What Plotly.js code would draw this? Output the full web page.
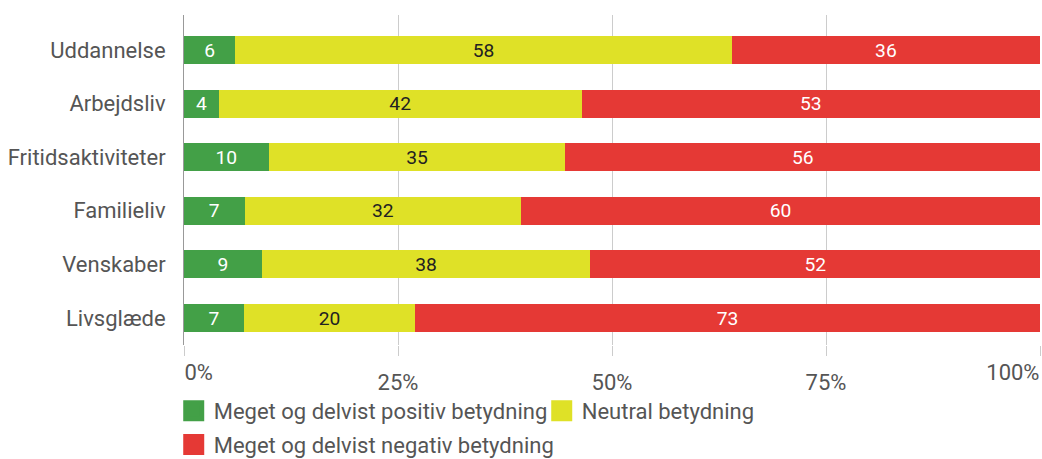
<!DOCTYPE html>
<html>
<head>
<meta charset="utf-8">
<script src="https://cdn.plot.ly/plotly-3.0.1.min.js"></script>
<style>html,body{margin:0;padding:0;background:#fff;}#chart{width:1042px;height:459px;}</style>
</head>
<body>
<div id="chart"></div>
<script>
const categories = ["Uddannelse", "Arbejdsliv", "Fritidsaktiviteter", "Familieliv", "Venskaber", "Livsglæde"];
const seriesNames = ["Meget og delvist positiv betydning", "Neutral betydning", "Meget og delvist negativ betydning"];
const positive = [6, 4, 10, 7, 9, 7];
const neutral = [58, 42, 35, 32, 38, 20];
const negative = [36, 53, 56, 60, 52, 73];
const tickVals = [0, 25, 50, 75, 100];
const tickText = ["0%", "25%", "50%", "75%", "100%"];

const colors = ["#43A047", "#DFE127", "#E53935"];
const textColors = ["#ffffff", "#222222", "#ffffff"];
const values = [positive, neutral, negative];
const FONT = "Roboto, sans-serif";

const traces = values.map((v, i) => ({
  type: "bar",
  orientation: "h",
  name: seriesNames[i],
  y: categories,
  x: v,
  text: v.map(String),
  texttemplate: "%{text}",
  textposition: "inside",
  insidetextanchor: "middle",
  textangle: 0,
  insidetextfont: {family: FONT, size: 22, color: textColors[i]},
  marker: {color: colors[i], line: {width: 0}},
  showlegend: false,
  legendgroup: "g" + i,
  hoverinfo: "skip"
}));

// legend entries (square swatches); also anchor the edge tick-label axes
const legendAxes = ["x2", "x", "x3"];
const legendIds = ["legend", "legend", "legend2"];
seriesNames.forEach((n, i) => {
  traces.push({
    type: "scatter",
    mode: "markers",
    name: n,
    x: [null],
    y: [null],
    xaxis: legendAxes[i],
    yaxis: "y",
    legend: legendIds[i],
    marker: {symbol: "square", size: 16, color: colors[i], line: {width: 5, color: colors[i]}},
    showlegend: true,
    legendgroup: "g" + i,
    hoverinfo: "skip"
  });
});

const axisFont = {family: FONT, size: 22, color: "#555555"};

function edgeAxis(val, label, pos) {
  return {
    overlaying: "x",
    anchor: "y",
    side: "bottom",
    range: [0, 100],
    tickvals: [val],
    ticktext: [label],
    ticklabelposition: pos,
    ticklabelstandoff: 8,
    showgrid: false,
    zeroline: false,
    showline: false,
    ticks: "outside",
    ticklen: 10,
    tickcolor: "rgba(0,0,0,0)",
    tickfont: axisFont,
    fixedrange: true
  };
}

const legendBase = {
  orientation: "h",
  x: -0.012,
  xanchor: "left",
  yanchor: "middle",
  font: {family: FONT, size: 22, color: "#555555"},
  traceorder: "normal",
  itemsizing: "trace",
  bgcolor: "rgba(0,0,0,0)"
};

const layout = {
  width: 1042,
  height: 459,
  margin: {l: 184, r: 2, t: 15, b: 114, autoexpand: false},
  paper_bgcolor: "#ffffff",
  plot_bgcolor: "#ffffff",
  barmode: "stack",
  barnorm: "percent",
  bargap: 0.48,
  font: {family: FONT, color: "#555555", size: 22},
  showlegend: true,
  xaxis: {
    range: [0, 100],
    tickvals: tickVals,
    ticktext: ["", tickText[1], tickText[2], tickText[3], ""],
    ticklabelstandoff: 8,
    showgrid: true,
    gridcolor: "#cccccc",
    gridwidth: 1,
    zeroline: false,
    ticks: "outside",
    ticklen: 10,
    tickcolor: "#cccccc",
    tickfont: axisFont,
    fixedrange: true
  },
  xaxis2: edgeAxis(tickVals[0], tickText[0], "outside right"),
  xaxis3: edgeAxis(tickVals[4], tickText[4], "outside left"),
  yaxis: {
    type: "category",
    range: [5.504, -0.653],
    showgrid: false,
    zeroline: false,
    showline: true,
    linecolor: "#999999",
    linewidth: 1,
    ticks: "outside",
    ticklen: 13,
    tickcolor: "rgba(0,0,0,0)",
    tickfont: axisFont,
    fixedrange: true
  },
  legend: Object.assign({}, legendBase, {y: -0.2, entrywidth: 323}),
  legend2: Object.assign({}, legendBase, {y: -0.302, entrywidth: 0})
};

Plotly.newPlot("chart", traces, layout, {displayModeBar: false, staticPlot: true});
</script>
</body>
</html>
